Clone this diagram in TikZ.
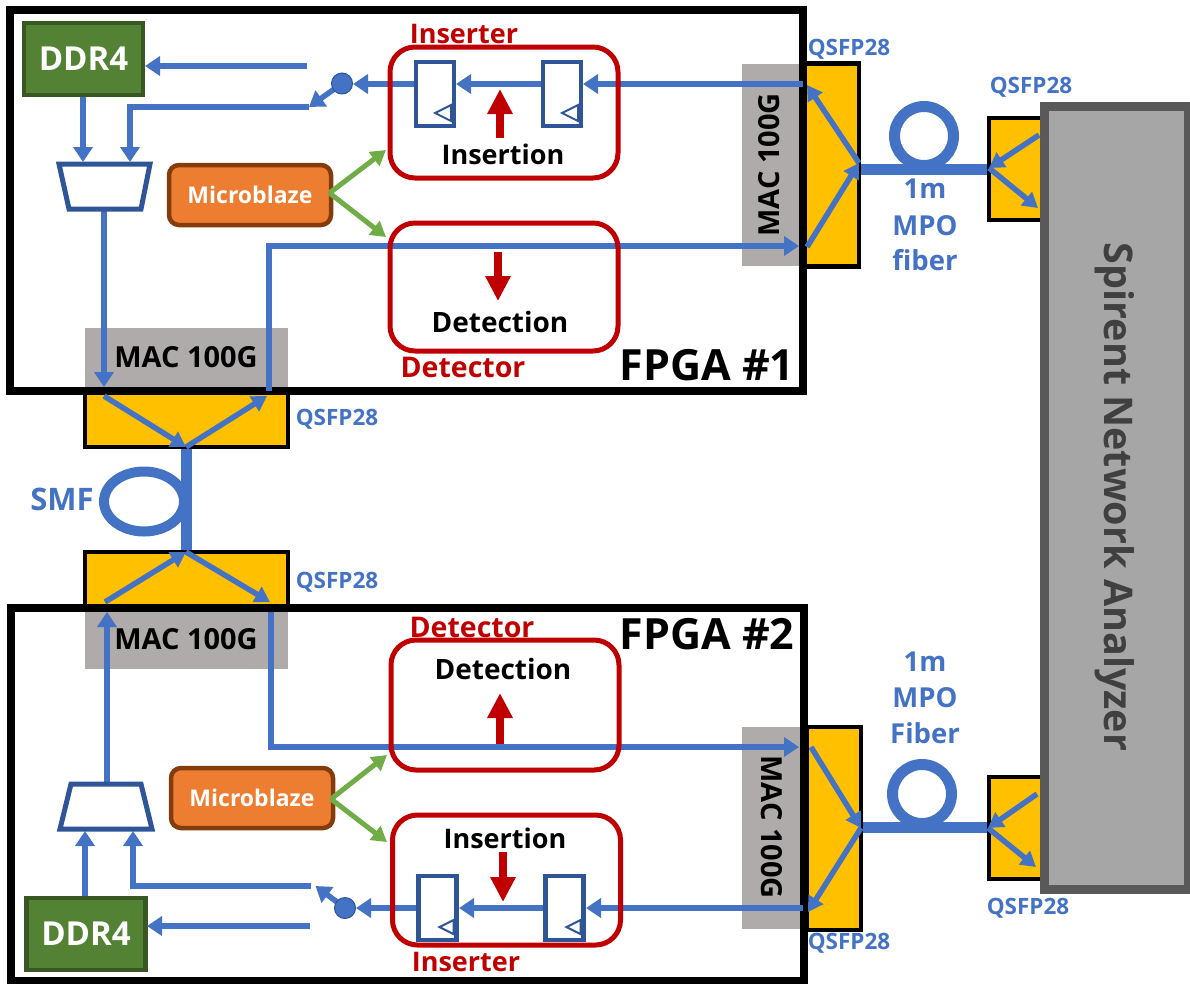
\documentclass[tikz,border=0pt]{standalone}
\usepackage{fontspec}
\setmainfont{Open Sans}
\usetikzlibrary{arrows.meta}
\definecolor{bl}{HTML}{4472C4}
\definecolor{dbl}{HTML}{2F5597}
\definecolor{rd}{HTML}{C00000}
\definecolor{gn}{HTML}{70AD47}
\definecolor{ggray}{HTML}{AFABAB}
\definecolor{yl}{HTML}{FFC000}
\definecolor{ddrf}{HTML}{548235}
\definecolor{ddrb}{HTML}{385723}
\definecolor{orf}{HTML}{ED7D31}
\definecolor{orb}{HTML}{843C0C}
\definecolor{spf}{HTML}{A6A6A6}
\definecolor{spb}{HTML}{595959}
\tikzset{
  box/.style 2 args={rectangle,inner sep=0pt,outer sep=0pt,minimum width=#1,minimum height=#2},
  macbox/.style 2 args={box={#1}{#2},fill=ggray},
  qsfp/.style 2 args={box={#1}{#2},fill=yl,draw=black,line width=4.5pt},
  fpga/.style 2 args={box={#1}{#2},draw=black,line width=8pt},
  ddr/.style={box={119pt}{72pt},fill=ddrf,draw=ddrb,line width=4.5pt},
  mblaze/.style={box={162pt}{60pt},rounded corners=10pt,fill=orf,draw=orb,line width=4.5pt},
  redbox/.style 2 args={box={#1}{#2},rounded corners=25pt,draw=rd,line width=5pt},
  flop/.style={box={38pt}{64pt},fill=white,draw=dbl,line width=4.5pt},
  swdot/.style={circle,inner sep=0pt,minimum size=21pt,fill=bl,draw=dbl,line width=1pt},
  muxshape/.style={fill=white,draw=dbl,line width=5pt,line join=miter},
  txt/.style 2 args={inner sep=0pt,font=\fontsize{#1}{#1}\selectfont\bfseries,text=#2},
  wire/.style={draw=bl,line width=5.5pt,-{Triangle[length=15pt,width=19pt]}},
  inner/.style={draw=bl,line width=5.5pt,-{Triangle[length=15pt,width=17pt]}},
  fibre/.style={draw=bl,line width=11pt},
  ctrl/.style={draw=gn,line width=5pt,-{Triangle[length=15pt,width=17pt]}},
  redarrow/.style={draw=rd,line width=8pt,-{Triangle[length=25pt,width=24pt]}},
  clk/.style={draw=dbl,line width=2pt,line join=miter},
}
\begin{document}
\begin{tikzpicture}[x=1pt,y=-1pt]
\useasboundingbox (0,0) rectangle (1190,983);
% ---- MAC blocks
\node[macbox={64pt}{202pt}] (macR1) at (774,165) {};
\node[macbox={203pt}{62pt}] (macB1) at (186.5,359) {};
\node[macbox={203pt}{62pt}] (macB2) at (186.5,638) {};
\node[macbox={64pt}{202pt}] (macR2) at (774,828) {};
% ---- transceivers
\node[qsfp={54pt}{203pt}] (qR1) at (832,165) {};
\node[qsfp={203pt}{54pt}] (qB1) at (186.5,420) {};
\node[qsfp={203pt}{54pt}] (qB2) at (186.5,579) {};
\node[qsfp={54pt}{203pt}] (qR2) at (834,828.5) {};
\node[qsfp={60pt}{102pt}] (qS1) at (1019,169) {};
\node[qsfp={60pt}{102pt}] (qS2) at (1019,828) {};
% ---- analyser
\node[box={144pt}{783pt},fill=spf,draw=spb,line width=9pt] (spir) at (1116,497.5) {};
\node[txt={39.5pt}{black!75},rotate=-90] (spirT) at (1115,497) {Spirent Network Analyzer};
% ---- FPGAs
\node[fpga={793pt}{381pt}] (f1) at (406.5,200.5) {};
\node[fpga={793pt}{373pt}] (f2) at (407.5,794.5) {};
\node[txt={43pt}{black}] (f1T) at (707,365) {FPGA \#1};
\node[txt={43pt}{black}] (f2T) at (707,634) {FPGA \#2};
\node[txt={29pt}{black},rotate=90] (macR1T) at (769,165) {MAC 100G};
\node[txt={29pt}{black}] (macB1T) at (186,357) {MAC 100G};
\node[txt={29pt}{black}] (macB2T) at (186,639) {MAC 100G};
\node[txt={29pt}{black},rotate=-90] (macR2T) at (772,827) {MAC 100G};
% ---- QSFP labels
\node[txt={22.5pt}{bl}] (l1) at (849,49) {QSFP28};
\node[txt={22.5pt}{bl}] (l2) at (1031,87) {QSFP28};
\node[txt={22.5pt}{bl}] (l3) at (337,419) {QSFP28};
\node[txt={22.5pt}{bl}] (l4) at (337,582) {QSFP28};
\node[txt={22.5pt}{bl}] (l5) at (849,943) {QSFP28};
\node[txt={22.5pt}{bl}] (l6) at (1028,908) {QSFP28};
% ---- FPGA 1 blocks
\node[ddr] (ddr1) at (83.5,59) {};
\node[txt={33pt}{white}] at (ddr1) {DDR4};
\node[mblaze] (mb1) at (250,195) {};
\node[txt={23pt}{white}] at (mb1) {Microblaze};
\coordinate (fa1) at (435,94);
\coordinate (fb1) at (562,94);
\coordinate (dot1) at (342,83.5);
% ---- FPGA 2 blocks
\node[ddr] (ddr2) at (86,934) {};
\node[txt={33pt}{white}] at (ddr2) {DDR4};
\node[mblaze] (mb2) at (252,798) {};
\node[txt={23pt}{white}] at (mb2) {Microblaze};
\coordinate (fa2) at (437.5,908);
\coordinate (fb2) at (564.5,908);
\coordinate (dot2) at (345,908);
% ---- coordinates
\foreach \n/\x/\y in {
 a1/803/84, a1f/583/84, a1g/543/84, a1h/456/84, a1i/416/84, a1j/353/84,
 b1/799/246, c1/269/391, d1/269/246, e1/307/66, e1t/145/66, g1/309/107, h1/130/107, i1/130/162,
 j0/83/97, j1/83/162, k0/104/211, k1/104/387, m1/386/150, n1/386/237, o1/329.5/193,
 a2/803/908, a2f/586/908, a2g/545/908, a2h/459/908, a2i/418/908, a2j/356/908,
 b2/799/747, c2/271/612, d2/271/747, e2/310/926, e2t/147/926, g2/311/886, h2/133/886, i2/133/831,
 j3/85/896, j2/85/831, k3/107/782, k2/107/612, m2/387/755, n2/387/842, o2/331/799, s2/315.5/886,
 qa/859/163, qb/807/85, qc/807/247,
 qd/861/828, qe/811/747, qf/808/912,
 qg/104/396, qh/186/447, qi/267/396,
 qj/105/602, qk/186/552, ql/270/602,
 qm/1039/135, qn/989/168, qo/1038/208,
 qp/1037/794, qq/988/828, qr/1036/867,
 fa/861/169, fb/987/169, fc/863/827, fd/987/827, fe/186/449, ff/186/550,
 ra/500/138, rb/500/89, rc/498/252, rd/498/301, re/500/744, rf/500/693, rg/503/852, rh/503/902}
 {\coordinate (\n) at (\x,\y);}
% ---- wires FPGA 1
\draw[wire] (a1) -- (a1f);
\draw[wire] (a1g) -- (a1h);
\draw[wire] (a1i) -- (a1j);
\draw[wire] (e1) -- (e1t);
\draw[wire] (dot1) -- (g1);
\draw[wire] (g1) -- (h1) -- (i1);
\draw[wire] (j0) -- (j1);
\draw[wire] (k0) -- (k1);
\draw[wire] (c1) -- (d1) -- (b1);
\draw[ctrl] (o1) -- (m1);
\draw[ctrl] (o1) -- (n1);
\draw[muxshape] (59,164) -- (150,164) -- (141,209) -- (69,209) -- cycle;
\node[flop] (flopA1) at (fa1) {};
\node[flop] (flopB1) at (fb1) {};
\node[swdot] (sw1) at (dot1) {};
\draw[clk] ([shift={(-3,-21)}]flopA1.south east) -- ++(-16,8) -- ++(16,8) -- cycle;
\draw[clk] ([shift={(-3,-21)}]flopB1.south east) -- ++(-16,8) -- ++(16,8) -- cycle;
\node[redbox={228pt}{131pt}] (ins1) at (504,112.5) {};
\node[redbox={228pt}{128pt}] (det1) at (504,287) {};
\draw[redarrow] (ra) -- (rb);
\draw[redarrow] (rc) -- (rd);
\node[txt={27pt}{black}] at (503,154) {Insertion};
\node[txt={27pt}{rd}] at (464,34) {Inserter};
\node[txt={28pt}{black}] at (500,322) {Detection};
\node[txt={28.5pt}{rd}] at (463,367) {Detector};
% ---- wires FPGA 2
\draw[wire] (a2) -- (a2f);
\draw[wire] (a2g) -- (a2h);
\draw[wire] (a2i) -- (a2j);
\draw[wire] (e2) -- (e2t);
\draw[wire] (dot2) -- (s2);
\draw[wire] (g2) -- (h2) -- (i2);
\draw[wire] (j3) -- (j2);
\draw[wire] (k3) -- (k2);
\draw[wire] (c2) -- (d2) -- (b2);
\draw[ctrl] (o2) -- (m2);
\draw[ctrl] (o2) -- (n2);
\draw[muxshape] (71,784) -- (141,784) -- (152,829) -- (60,829) -- cycle;
\node[flop] (flopA2) at (fa2) {};
\node[flop] (flopB2) at (fb2) {};
\node[swdot] (sw2) at (dot2) {};
\draw[clk] ([shift={(-3,-20)}]flopA2.south east) -- ++(-14,7) -- ++(14,7) -- cycle;
\draw[clk] ([shift={(-3,-20)}]flopB2.south east) -- ++(-14,7) -- ++(14,7) -- cycle;
\node[redbox={228pt}{130pt}] (det2) at (505,705) {};
\node[redbox={228pt}{130pt}] (ins2) at (506.5,880) {};
\draw[redarrow] (re) -- (rf);
\draw[redarrow] (rg) -- (rh);
\node[txt={28pt}{black}] at (503,669) {Detection};
\node[txt={28.5pt}{rd}] at (472,627) {Detector};
\node[txt={27pt}{black}] at (505,838) {Insertion};
\node[txt={27pt}{rd}] at (466,962) {Inserter};
% ---- inner transceiver arrows
\draw[inner] (qa) -- (qb);
\draw[inner] (qc) -- (qa);
\draw[inner] (qe) -- (qd);
\draw[inner] (qd) -- (qf);
\draw[inner] (qg) -- (qh);
\draw[inner] (qh) -- (qi);
\draw[inner] (qj) -- (qk);
\draw[inner] (qk) -- (ql);
\draw[inner] (qm) -- (qn);
\draw[inner] (qn) -- (qo);
\draw[inner] (qp) -- (qq);
\draw[inner] (qq) -- (qr);
% ---- fibres
\draw[fibre] (fa) -- (fb);
\draw[draw=bl,line width=11pt] (924,136) circle (29.5);
\draw[fibre] (fc) -- (fd);
\draw[draw=bl,line width=11pt] (922,794) circle (29.5);
\draw[fibre] (fe) -- (ff);
\draw[draw=bl,line width=10pt] (144,501.5) ellipse (40 and 30);
\node[txt={31pt}{bl}] at (62,499) {SMF};
\node[txt={27.5pt}{bl},anchor=base] at (925,198) {1m};
\node[txt={27.5pt}{bl},anchor=base] at (925,235) {MPO};
\node[txt={27.5pt}{bl},anchor=base] at (925,270) {fiber};
\node[txt={27.5pt}{bl},anchor=base] at (925,671) {1m};
\node[txt={27.5pt}{bl},anchor=base] at (925,707) {MPO};
\node[txt={27.5pt}{bl},anchor=base] at (925,743) {Fiber};
\end{tikzpicture}
\end{document}
